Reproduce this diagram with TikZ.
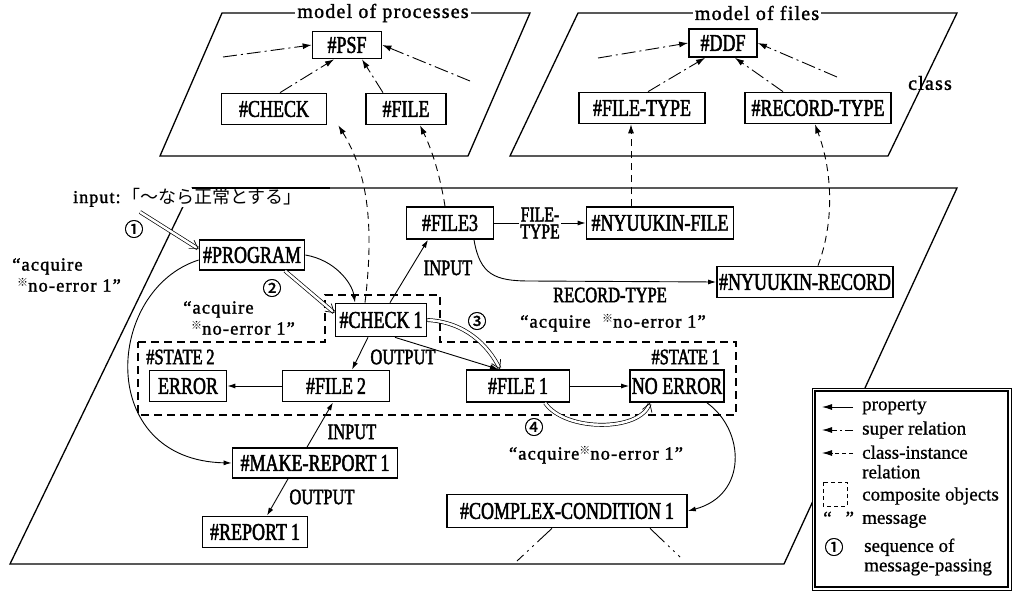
\documentclass[tikz,border=0pt]{standalone}
\usepackage{fontspec}
\setmainfont{Liberation Serif}
\newfontfamily\nf{Liberation Serif}[FakeStretch=0.75,FakeBold=2]
\newfontfamily\mf{Liberation Serif}[LetterSpace=6,FakeBold=1.5]
\newfontfamily\lf{Liberation Serif}[FakeBold=0.8]
\newfontfamily\cjk{Noto Sans CJK JP}
\newfontfamily\cjkb{Noto Sans CJK JP}[FakeBold=1.5]
\usetikzlibrary{arrows.meta}
\newcommand{\refmark}{{\cjk\fontsize{11}{11}\selectfont\raisebox{5pt}{※}}}
\tikzset{
  box/.style={draw, fill=white, line width=1.7pt, inner sep=0pt, minimum height=31pt, font=\nf\fontsize{24}{26}\selectfont},
  prop/.style={line width=0.9pt, -{Latex[length=8pt,width=5pt]}},
  supr/.style={line width=0.9pt, dash pattern=on 14pt off 4pt on 2pt off 4pt, -{Latex[length=9pt,width=6pt]}},
  inst/.style={line width=0.9pt, dash pattern=on 7pt off 5pt, -{Latex[length=9pt,width=6pt]}},
  msg/.style={double, double distance=2.5pt, line width=0.7pt, -{Straight Barb[length=8pt,width=10pt]}},
  comp/.style={line width=1.3pt, dash pattern=on 8pt off 5pt},
  plane/.style={line width=1.3pt},
  lab/.style={font=\nf\fontsize{22}{24}\selectfont, inner sep=1pt},
  msgl/.style={font=\mf\fontsize{18.5}{21}\selectfont, align=left, inner sep=0pt},
  ttl/.style={font=\mf\fontsize{20}{22}\selectfont, inner sep=2pt},
  num/.style={font=\cjkb\fontsize{19}{20}\selectfont, inner sep=0pt},
  leg/.style={font=\lf\fontsize{19}{19.5}\selectfont, anchor=west, inner sep=0pt, align=left}
}
\begin{document}
\begin{tikzpicture}[x=1pt,y=-1pt]
\useasboundingbox (0,0) rectangle (1013,592);
% planes
\draw[plane] (222,13) -- (530,13) -- (468,156) -- (160,156) -- cycle;
\draw[plane] (578,13) -- (957,13) -- (888,156) -- (510,156) -- cycle;
\draw[plane] (192,188) -- (957,188) -- (784,564) -- (10,564) -- cycle;
\node[ttl, fill=white] (tp) at (383,13) {model of processes};
\node[ttl, fill=white] (tf) at (757,13) {model of files};
\node[ttl] (cls) at (930,83) {class};
% input label
\node[anchor=base west, fill=white, inner sep=0pt] (inp) at (73,203) {{\mf\fontsize{18}{20}\selectfont input:}\,{\cjk\fontsize{18}{20}\selectfont 「〜なら正常とする」}};
\draw[plane] (192,188) -- (330,188);
% composite dashed region
\draw[comp] (138,342) -- (325,342) -- (325,295) -- (440,295) -- (440,342) -- (736,342) -- (736,415) -- (138,415) -- cycle;
\node[msgl, anchor=west] (st2) at (146,357) {\nf\fontsize{22}{24}\selectfont \#STATE\,2};
\node[msgl, anchor=east] (st1) at (720,357) {\nf\fontsize{22}{24}\selectfont \#STATE\,1};
% class nodes
\node[box, minimum width=69pt, minimum height=27pt] (PSF) at (347,45) {\#PSF};
\node[box, minimum width=105pt] (CHECK) at (274,109) {\#CHECK};
\node[box, minimum width=80pt] (FILE) at (406,109) {\#FILE};
\node[box, minimum width=68pt, minimum height=28pt] (DDF) at (723,43) {\#DDF};
\node[box, minimum width=126pt] (FT) at (642,108) {\#FILE-TYPE};
\node[box, minimum width=146pt] (RT) at (818,108) {\#RECORD-TYPE};
% instance nodes
\node[box, minimum width=105pt, minimum height=30pt] (PROGRAM) at (252,255) {\#PROGRAM};
\node[box, minimum width=91pt, minimum height=33pt] (CHECK1) at (381,320) {\#CHECK\,1};
\node[box, minimum width=87pt, minimum height=32pt] (FILE3) at (450,223) {\#FILE3};
\node[box, minimum width=147pt, minimum height=32pt] (NFILE) at (660,223) {\#NYUUKIN-FILE};
\node[box, minimum width=176pt] (NREC) at (805,282) {\#NYUUKIN-RECORD};
\node[box, minimum width=77pt] (ERROR) at (188,386) {ERROR};
\node[box, minimum width=107pt] (FILE2) at (336,386) {\#FILE\,2};
\node[box, minimum width=103pt, minimum height=32pt] (FILE1) at (518,386) {\#FILE\,1};
\node[box, minimum width=94pt, minimum height=32pt] (NOERR) at (677,386) {NO ERROR};
\node[box, minimum width=165pt, minimum height=30pt] (MAKEREP) at (315,463) {\#MAKE-REPORT\,1};
\node[box, minimum width=105pt] (REPORT) at (255,532) {\#REPORT\,1};
\node[box, minimum width=240pt, minimum height=33pt] (COMPLEX) at (567,511) {\#COMPLEX-CONDITION\,1};
% super relations
\coordinate (p1) at (223,57);
\coordinate (p2) at (470,81);
\coordinate (f1) at (598,58);
\coordinate (f2) at (837,77);
\draw[supr] (p1) -- (PSF.west);
\draw[supr] (p2) -- (PSF.east);
\draw[supr] ([xshift=6pt]CHECK.north) -- ([xshift=-13pt]PSF.south);
\draw[supr] ([xshift=-23pt]FILE.north) -- ([xshift=15pt]PSF.south);
\draw[supr] (f1) -- (DDF.west);
\draw[supr] (f2) -- (DDF.east);
\draw[supr] ([xshift=6pt]FT.north) -- ([xshift=-18pt]DDF.south);
\draw[supr] ([xshift=-35pt]RT.north) -- ([xshift=12pt]DDF.south);
% class-instance relations
\draw[inst] ([xshift=-16pt]CHECK1.north) .. controls (375,220) and (366,170) .. ([xshift=11pt]CHECK.south east);
\draw[inst] ([xshift=-5pt]FILE3.north) .. controls (440,175) and (432,150) .. ([xshift=14pt]FILE.south);
\draw[inst] ([xshift=-29pt]NFILE.north) -- ([xshift=-11pt]FT.south);
\draw[inst] ([xshift=13pt]NREC.north) .. controls (835,220) and (832,170) .. ([xshift=-3pt]RT.south);
% properties
\draw[prop] (FILE3.east) -- node[lab, fill=white, align=center, font=\nf\fontsize{21}{17}\selectfont] (ftl) {FILE-\\TYPE} (NFILE.west);
\draw[prop] ([xshift=24pt]FILE3.south) .. controls (480,275) and (495,281) .. (530,281) -- (NREC.west);
\node[lab] (rtl) at (610,295) {RECORD-TYPE};
\draw[prop] ([xshift=9pt]CHECK1.north) -- ([xshift=-22pt]FILE3.south);
\node[lab] (in1) at (448,268) {INPUT};
\draw[prop] ([xshift=-13pt]CHECK1.south) -- ([xshift=16pt]FILE2.north);
\node[lab] (out1) at (403,357) {OUTPUT};
\draw[prop] ([xshift=14pt]CHECK1.south) -- ([xshift=-20pt]FILE1.north);
\draw[prop] (FILE1.east) -- (NOERR.west);
\draw[prop] (FILE2.west) -- (ERROR.east);
\draw[prop] (PROGRAM.east) .. controls (335,260) and (352,283) .. ([xshift=-26pt]CHECK1.north);
\draw[prop] ([yshift=-5pt]PROGRAM.west) .. controls (105,290) and (95,460) .. (MAKEREP.west);
\draw[prop] ([xshift=-8pt]MAKEREP.north) -- ([xshift=-3pt]FILE2.south);
\node[lab] (in2) at (352,432) {INPUT};
\draw[prop] ([xshift=-27pt]MAKEREP.south) -- ([xshift=12pt]REPORT.north);
\node[lab] (out2) at (322,497) {OUTPUT};
\draw[prop] ([xshift=30pt]NOERR.south) .. controls (745,430) and (748,495) .. (COMPLEX.east);
\coordinate (c1) at (517,561);
\coordinate (c2) at (680,557);
\draw[line width=0.9pt, dash pattern=on 20pt off 5pt on 2pt off 5pt on 2pt off 5pt] ([xshift=-15pt]COMPLEX.south) -- (c1);
\draw[line width=0.9pt, dash pattern=on 20pt off 5pt on 2pt off 5pt on 2pt off 5pt] ([xshift=83pt]COMPLEX.south) -- (c2);
% messages
\coordinate (m1) at (140,212);
\draw[msg] (m1) -- ([yshift=6pt]PROGRAM.west);
\draw[msg] ([xshift=33pt]PROGRAM.south) -- ([yshift=7pt]CHECK1.west);
\draw[msg] (CHECK1.east) .. controls (465,322) and (488,345) .. ([xshift=-18pt]FILE1.north);
\draw[msg] ([xshift=27pt]FILE1.south) .. controls (565,432) and (640,432) .. ([xshift=-27pt]NOERR.south);
\node[num] (n1) at (134,229) {①};
\node[num] (n2) at (272,288) {②};
\node[num] (n3) at (477,321) {③};
\node[num] (n4) at (534,427) {④};
\node[msgl, anchor=west] (a1) at (12,275) {“acquire\\\hspace*{5pt}\refmark no-error 1”};
\node[msgl, anchor=west] (a2) at (183,318) {“acquire\\\hspace*{8pt}\refmark no-error 1”};
\node[msgl] (a3) at (613,323) {“acquire \ \refmark no-error 1”};
\node[msgl] (a4) at (596,455) {“acquire\refmark no-error 1”};
% legend
\draw[fill=white, line width=0.8pt] (812,388) rectangle (1011,590);
\draw[line width=1.3pt] (815,391) rectangle (1008,587);
\coordinate (l1a) at (853,407); \coordinate (l1b) at (822,407);
\coordinate (l2a) at (853,430); \coordinate (l2b) at (822,430);
\coordinate (l3a) at (853,453); \coordinate (l3b) at (822,453);
\draw[prop, -{Latex[length=10pt,width=6pt]}] (l1a) -- (l1b);
\draw[supr, dash pattern=on 8pt off 3pt on 2pt off 3pt, -{Latex[length=10pt,width=6pt]}] (l2a) -- (l2b);
\draw[inst, dash pattern=on 4pt off 3pt, -{Latex[length=10pt,width=6pt]}] (l3a) -- (l3b);
\draw[line width=1pt, dash pattern=on 4pt off 3pt] (823,482) rectangle (847,506);
\node[leg] (lg1) at (862,407) {property};
\node[leg] (lg2) at (862,430) {super relation};
\node[leg] (lg3) at (862,462) {class-instance\\relation};
\node[leg] (lg4) at (862,496) {composite objects};
\node[leg] (lg5) at (823,518) {“\hspace{14pt}”};
\node[leg] (lg6) at (862,521) {message};
\node[num] (lg7) at (834,547) {①};
\node[leg] (lg8) at (864,557) {sequence of\\message-passing};
\end{tikzpicture}
\end{document}
